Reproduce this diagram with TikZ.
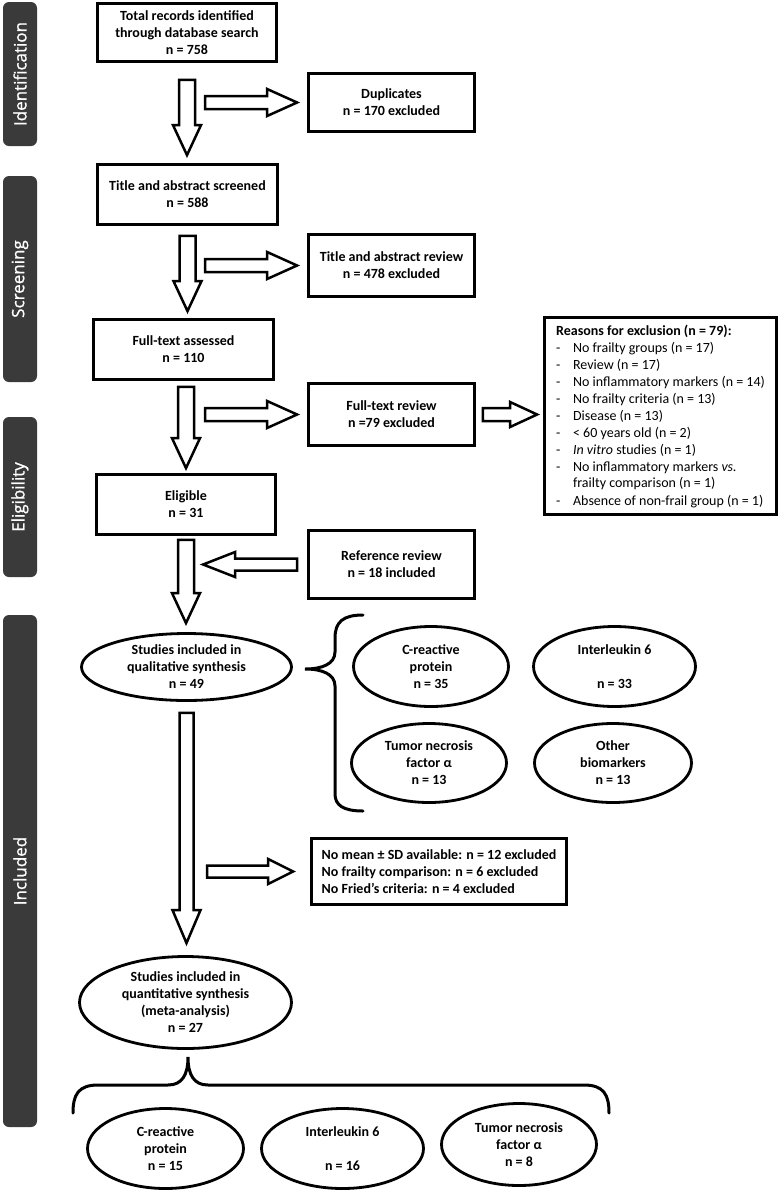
\documentclass[tikz,border=0pt]{standalone}
\usepackage{fontspec}
\setmainfont{Carlito}
\newfontfamily\barfont[FakeBold=1]{Open Sans}
\usetikzlibrary{calc,shapes.geometric}
\definecolor{barcol}{HTML}{3A3A3A}
% hollow block arrow: #1 from, #2 to, #3 shaft half width, #4 head half width, #5 head length
\newcommand\hollowarrow[5]{%
  \coordinate (ha1) at #1;
  \coordinate (ha2) at #2;
  \coordinate (hah) at ($(ha2)!#5!(ha1)$);
  \draw[hollow] ($(ha1)!#3!90:(ha2)$) -- ($(hah)!#3!-90:(ha1)$) -- ($(hah)!#4!-90:(ha1)$) -- (ha2)
    -- ($(hah)!#4!90:(ha1)$) -- ($(hah)!#3!90:(ha1)$) -- ($(ha1)!#3!-90:(ha2)$) -- cycle;}
\newcommand\reasonitem{\makebox[17pt][l]{-}}
\begin{document}
\begin{tikzpicture}[x=1pt,y=-1pt,
  txt/.style={font=\bfseries\fontsize{14pt}{17pt}\selectfont, align=center},
  box/.style={txt, draw, line width=2.8pt, inner sep=0pt, minimum width=#1},
  oval/.style={txt, draw, ellipse, line width=2.8pt, inner sep=0pt},
  sidebar/.style={fill=barcol, rounded corners=6pt, inner sep=0pt, minimum width=34pt},
  sidelabel/.style={rotate=90, text=white, font=\barfont\fontsize{17pt}{20pt}\selectfont},
  hollow/.style={draw, fill=white, line width=2.5pt, line join=miter},
  bracestyle/.style={draw, line width=3pt, line cap=round}]
\useasboundingbox (0,0) rectangle (780,1192);
\fill[white] (0,0) rectangle (780,1192);

% side bars
\node[sidebar, minimum height=144pt] (barI) at (20,74) {};
\node[sidelabel] (labI) at (barI.center) {Identification};
\node[sidebar, minimum height=206pt] (barS) at (20,279) {};
\node[sidelabel] (labS) at (barS.center) {Screening};
\node[sidebar, minimum height=160pt] (barE) at (20,497) {};
\node[sidelabel] (labE) at (barE.center) {Eligibility};
\node[sidebar, minimum height=512pt] (barN) at (20,871) {};
\node[sidelabel] (labN) at (barN.center) {Included};

% boxes
\node[box=179pt, minimum height=58pt] (total) at (187,32.5) {Total records identified\\through database search\\n = 758};
\node[box=166pt, minimum height=58pt] (dup) at (391.5,102.5) {Duplicates\\n = 170 excluded};
\node[box=180pt, minimum height=60pt] (tas) at (187.5,194.5) {Title and abstract screened\\n = 588};
\node[box=166pt, minimum height=62pt] (tar) at (391.5,265.5) {Title and abstract review\\n = 478 excluded};
\node[box=180pt, minimum height=60pt] (fta) at (183.5,349.5) {Full-text assessed\\n = 110};
\node[box=166pt, minimum height=62pt] (ftr) at (391.5,414.5) {Full-text review\\n =79 excluded};
\node[box=179pt, minimum height=60pt] (elig) at (186,504.5) {Eligible\\n = 31};
\node[box=166pt, minimum height=68pt] (refr) at (391.5,564.5) {Reference review\\n = 18 included};
\node[box=232pt, minimum height=197pt, align=left, font=\mdseries\fontsize{14pt}{17pt}\selectfont] (reasons) at (660.5,416) {\textbf{Reasons for exclusion (n = 79):}\\
\reasonitem No frailty groups (n = 17)\\
\reasonitem Review (n = 17)\\
\reasonitem No inflammatory markers (n = 14)\\
\reasonitem No frailty criteria (n = 13)\\
\reasonitem Disease (n = 13)\\
\reasonitem < 60 years old (n = 2)\\
\reasonitem \textit{In vitro} studies (n = 1)\\
\reasonitem No inflammatory markers \textit{vs.}\\
\hspace*{17pt}frailty comparison (n = 1)\\
\reasonitem Absence of non-frail group (n = 1)};
\node[box=255pt, minimum height=66pt, align=left] (excl) at (439,871.5) {No mean ± SD available: n = 12 excluded\\No frailty comparison: n = 6 excluded\\No Fried’s criteria: n = 4 excluded};

% ellipses
\node[oval, minimum width=210pt, minimum height=67pt] (qual) at (186.5,667) {Studies included in\\qualitative synthesis\\n = 49};
\node[oval, minimum width=155pt, minimum height=80pt] (crp1) at (431,666.5) {C-reactive\\protein\\n = 35};
\node[oval, minimum width=162pt, minimum height=80pt] (il61) at (614.5,666.5) {Interleukin 6\\ \\n = 33};
\node[oval, minimum width=155pt, minimum height=79pt] (tnf1) at (429,763) {Tumor necrosis\\factor α\\n = 13};
\node[oval, minimum width=157pt, minimum height=79pt] (oth1) at (613,763) {Other\\biomarkers\\n = 13};
\node[oval, minimum width=212pt, minimum height=92pt] (quant) at (185.5,1002.5) {Studies included in\\quantitative synthesis\\(meta-analysis)\\n = 27};
\node[oval, minimum width=156pt, minimum height=80pt] (crp2) at (165.5,1148.5) {C-reactive\\protein\\n = 15};
\node[oval, minimum width=162pt, minimum height=80pt] (il62) at (342.5,1148.5) {Interleukin 6\\ \\n = 16};
\node[oval, minimum width=155pt, minimum height=82pt] (tnf2) at (519,1144.5) {Tumor necrosis\\factor α\\n = 8};

% vertical arrows
\hollowarrow{($(total.south)+(0,17)$)}{($(total.south |- tas.north)+(0,-8)$)}{8pt}{14pt}{30pt}
\hollowarrow{($(tas.south)+(0,10)$)}{($(tas.south |- fta.north)+(0,-7)$)}{8pt}{14pt}{30pt}
\hollowarrow{($(elig.north |- fta.south)+(0,6)$)}{($(elig.north)+(0,-5)$)}{8pt}{14pt}{30pt}
\hollowarrow{($(elig.south)+(0,4)$)}{($(elig.south |- qual.north)+(0,-9)$)}{8pt}{14pt}{30pt}
\hollowarrow{($(qual.south)+(0,11)$)}{($(qual.south |- quant.north)+(0,-12)$)}{7pt}{14pt}{33pt}

% horizontal arrows
\hollowarrow{($(dup.west)+(-102,0)$)}{($(dup.west)+(-10,0)$)}{6.5pt}{13.5pt}{30pt}
\hollowarrow{($(tar.west)+(-102,0)$)}{($(tar.west)+(-10,0)$)}{6.5pt}{13.5pt}{30pt}
\hollowarrow{($(ftr.west)+(-102,0)$)}{($(ftr.west)+(-10,0)$)}{6.5pt}{13.5pt}{30pt}
\hollowarrow{($(ftr.east)+(7,0)$)}{($(ftr.east -| reasons.west)+(-6,0)$)}{6.5pt}{12.5pt}{27pt}
\hollowarrow{($(refr.west)+(-10,0)$)}{($(refr.west)+(-104,0)$)}{6pt}{12.5pt}{32pt}
\hollowarrow{($(excl.west)+(-103,0)$)}{($(excl.west)+(-17,0)$)}{6pt}{12.5pt}{25pt}

% braces
\draw[bracestyle] (363,615) .. controls (343,615) and (335,622) .. (335,638) -- (335,652)
  .. controls (335,664) and (322,669) .. (305,669)
  .. controls (322,669) and (335,674) .. (335,686) -- (335,794)
  .. controls (335,805) and (343,811) .. (363,811);
\draw[bracestyle] (73,1113) .. controls (73,1095) and (78,1085) .. (98,1085) -- (168,1085)
  .. controls (182,1085) and (188,1075) .. (188,1057)
  .. controls (188,1075) and (194,1085) .. (208,1085) -- (584,1085)
  .. controls (604,1085) and (609,1095) .. (609,1113);
\end{tikzpicture}
\end{document}
